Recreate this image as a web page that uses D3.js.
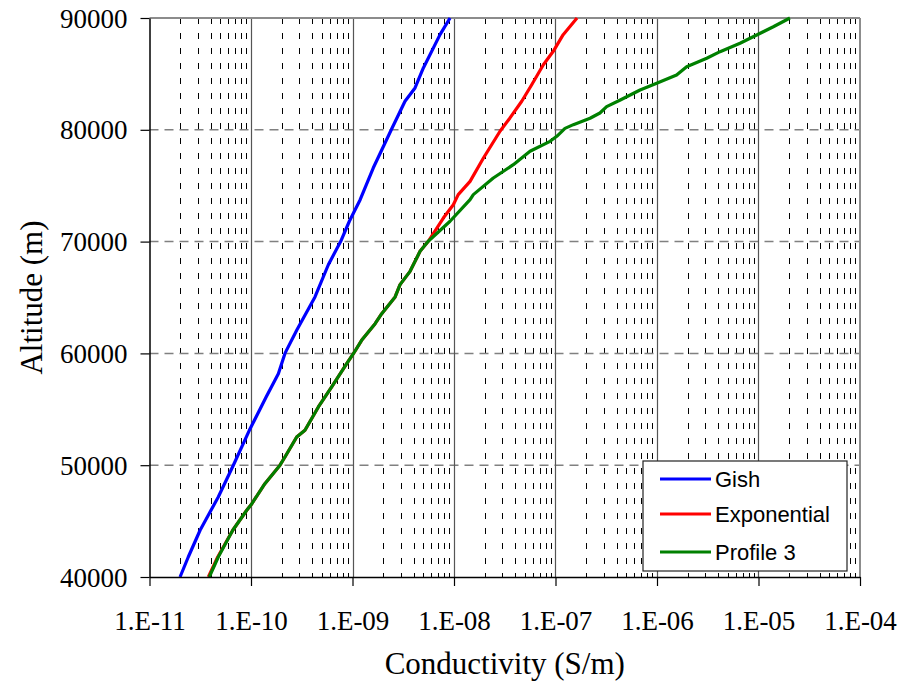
<!DOCTYPE html>
<html>
<head>
<meta charset="utf-8">
<script src="https://cdn.jsdelivr.net/npm/d3@7"></script>
<style>
  html, body { margin: 0; padding: 0; background: #ffffff; }
  svg { display: block; }
</style>
</head>
<body>
<svg id="chart" width="904" height="688"></svg>
<script>
// ---------------- data ----------------
const xTickLabels = ["1.E-11", "1.E-10", "1.E-09", "1.E-08", "1.E-07", "1.E-06", "1.E-05", "1.E-04"];
const yTickValues = [40000, 50000, 60000, 70000, 80000, 90000];
const seriesNames = ["Gish", "Exponential", "Profile 3"];
const seriesColors = ["#0000ff", "#ff0000", "#008000"];

const gishAlt = [40000, 41790, 44180, 47160, 50000, 53120, 56100, 58180, 60000, 62070, 65050, 67930, 70030, 71820, 73750, 76580, 80070, 82550, 83740, 85530, 88510, 90000];
const gishSigma = [2.0e-11, 2.41e-11, 3.15e-11, 4.76e-11, 6.70e-11, 9.63e-11, 1.41e-10, 1.86e-10, 2.16e-10, 2.82e-10, 4.27e-10, 5.78e-10, 7.66e-10, 9.31e-10, 1.19e-9, 1.60e-9, 2.43e-9, 3.29e-9, 4.13e-9, 4.99e-9, 7.28e-9, 9.14e-9];

const expAlt = [40000, 41790, 44180, 45970, 46560, 48350, 50000, 50730, 52520, 53120, 55210, 57000, 59080, 59970, 61170, 62660, 63550, 65050, 66150, 67340, 69130, 70030, 72110, 73300, 74200, 75390, 77480, 79870, 81060, 82550, 84030, 85820, 87020, 88510, 90000];
const expSigma = [3.80e-11, 4.70e-11, 6.61e-11, 9.08e-11, 1.02e-10, 1.37e-10, 1.93e-10, 2.16e-10, 2.82e-10, 3.40e-10, 4.61e-10, 6.24e-10, 8.77e-10, 1.02e-9, 1.23e-9, 1.67e-9, 1.94e-9, 2.63e-9, 2.94e-9, 3.69e-9, 4.63e-9, 5.58e-9, 7.85e-9, 9.85e-9, 1.10e-8, 1.44e-8, 1.95e-8, 2.84e-8, 3.56e-8, 4.65e-8, 5.83e-8, 7.59e-8, 9.51e-8, 1.19e-7, 1.63e-7];

const p3Alt = [40000, 41790, 44180, 45970, 46560, 48350, 50000, 50730, 52520, 53120, 55210, 57000, 59080, 59970, 61170, 62660, 63550, 65050, 66150, 67340, 69130, 70030, 71820, 73750, 74200, 75690, 76880, 78080, 78970, 79420, 80130, 80460, 81030, 81500, 82070, 82670, 83560, 84160, 84900, 85640, 86400, 86990, 87740, 88480, 89220, 90000];
const p3Sigma = [3.88e-11, 4.76e-11, 6.61e-11, 9.08e-11, 1.02e-10, 1.37e-10, 1.93e-10, 2.16e-10, 2.82e-10, 3.40e-10, 4.61e-10, 6.24e-10, 8.77e-10, 1.02e-9, 1.23e-9, 1.67e-9, 1.94e-9, 2.63e-9, 2.94e-9, 3.69e-9, 4.63e-9, 5.58e-9, 9.14e-9, 1.44e-8, 1.55e-8, 2.44e-8, 3.84e-8, 5.61e-8, 8.83e-8, 1.03e-7, 1.24e-7, 1.50e-7, 2.19e-7, 2.74e-7, 3.19e-7, 4.35e-7, 6.81e-7, 9.93e-7, 1.56e-6, 1.96e-6, 3.09e-6, 4.18e-6, 6.58e-6, 9.60e-6, 1.40e-5, 2.04e-5];

// ---------------- layout ----------------
const svg = d3.select("#chart");
const pL = 149.5, pR = 860, pT = 18, pB = 577;

const x = d3.scaleLog().domain([1e-11, 1e-4]).range([pL, pR]);
const y = d3.scaleLinear().domain([40000, 90000]).range([pB, pT]);

const serif = "'Liberation Serif', 'Times New Roman', serif";
const sans = "'Liberation Sans', Arial, sans-serif";

// minor vertical gridlines (2..9 x decade)
const minorVals = [];
for (let e = -11; e < -4; e++) {
  for (let k = 2; k <= 9; k++) minorVals.push(k * Math.pow(10, e));
}
svg.append("g").selectAll("line").data(minorVals).join("line")
  .attr("x1", d => Math.round(x(d)) + 0.5).attr("x2", d => Math.round(x(d)) + 0.5)
  .attr("y1", pT).attr("y2", pB)
  .attr("stroke", "#000").attr("stroke-width", 1)
  .attr("stroke-dasharray", "6,9");

// horizontal gridlines
svg.append("g").selectAll("line").data([50000, 60000, 70000, 80000]).join("line")
  .attr("x1", pL).attr("x2", pR)
  .attr("y1", d => y(d)).attr("y2", d => y(d))
  .attr("stroke", "#808080").attr("stroke-width", 1.5)
  .attr("stroke-dasharray", "9,6");

// major vertical gridlines
const majorVals = [1e-10, 1e-9, 1e-8, 1e-7, 1e-6, 1e-5];
svg.append("g").selectAll("line").data(majorVals).join("line")
  .attr("x1", d => Math.round(x(d)) + 0.5).attr("x2", d => Math.round(x(d)) + 0.5)
  .attr("y1", pT).attr("y2", pB)
  .attr("stroke", "#555").attr("stroke-width", 1.2);

// plot border top/right (grey)
svg.append("line").attr("x1", pL).attr("x2", pR).attr("y1", pT).attr("y2", pT)
  .attr("stroke", "#8c8c8c").attr("stroke-width", 2);
svg.append("line").attr("x1", pR).attr("x2", pR).attr("y1", pT).attr("y2", pB)
  .attr("stroke", "#8c8c8c").attr("stroke-width", 2);

// series
const series = [
  { alt: gishAlt, sig: gishSigma },
  { alt: expAlt, sig: expSigma },
  { alt: p3Alt, sig: p3Sigma }
];
const line = d3.line().x(d => x(d[1])).y(d => y(d[0])).curve(d3.curveLinear);
series.forEach((s, i) => {
  const pts = s.alt.map((a, j) => [a, s.sig[j]]);
  svg.append("path").datum(pts)
    .attr("d", line)
    .attr("fill", "none")
    .attr("stroke", seriesColors[i])
    .attr("stroke-width", 3.2)
    .attr("stroke-linejoin", "round")
    .attr("stroke-linecap", "butt");
});

// axes
const xAxis = d3.axisBottom(x)
  .tickValues([1e-11, 1e-10, 1e-9, 1e-8, 1e-7, 1e-6, 1e-5, 1e-4])
  .tickFormat((d, i) => xTickLabels[i])
  .tickSize(9).tickSizeOuter(0).tickPadding(16);
const gx = svg.append("g").attr("transform", `translate(0,${pB})`).call(xAxis);
gx.select(".domain").attr("stroke", "#000").attr("stroke-width", 1.5);
gx.selectAll(".tick line").attr("stroke", "#000").attr("stroke-width", 1.2);
gx.selectAll("text").attr("font-family", serif).attr("font-size", 27).attr("fill", "#000")
  .attr("dy", "0").attr("y", 53);

const yAxis = d3.axisLeft(y).tickValues(yTickValues).tickFormat(d3.format("d"))
  .tickSize(9).tickSizeOuter(0).tickPadding(13);
const gy = svg.append("g").attr("transform", `translate(${pL},0)`).call(yAxis);
gy.select(".domain").attr("stroke", "#000").attr("stroke-width", 1.5);
gy.selectAll(".tick line").attr("stroke", "#000").attr("stroke-width", 1.2);
gy.selectAll("text").attr("font-family", serif).attr("font-size", 27).attr("fill", "#000")
  .attr("dy", "0.34em");

// axis titles
svg.append("text").attr("x", (pL + pR) / 2).attr("y", 674)
  .attr("text-anchor", "middle").attr("font-family", serif).attr("font-size", 31)
  .attr("fill", "#000").text("Conductivity (S/m)");
svg.append("text").attr("transform", `translate(42,${(pT + pB) / 2}) rotate(-90)`)
  .attr("text-anchor", "middle").attr("font-family", serif).attr("font-size", 31)
  .attr("fill", "#000").text("Altitude (m)");

// legend
const lg = svg.append("g");
lg.append("rect").attr("x", 643).attr("y", 461).attr("width", 204).attr("height", 110)
  .attr("fill", "#fff").attr("stroke", "#222").attr("stroke-width", 1.2);
const legY = [479, 514, 552];
seriesNames.forEach((n, i) => {
  lg.append("line").attr("x1", 660).attr("x2", 711).attr("y1", legY[i]).attr("y2", legY[i])
    .attr("stroke", seriesColors[i]).attr("stroke-width", 3.2);
  lg.append("text").attr("x", 715).attr("y", legY[i] + 8)
    .attr("font-family", sans).attr("font-size", 22).attr("fill", "#000").text(n);
});
</script>
</body>
</html>
